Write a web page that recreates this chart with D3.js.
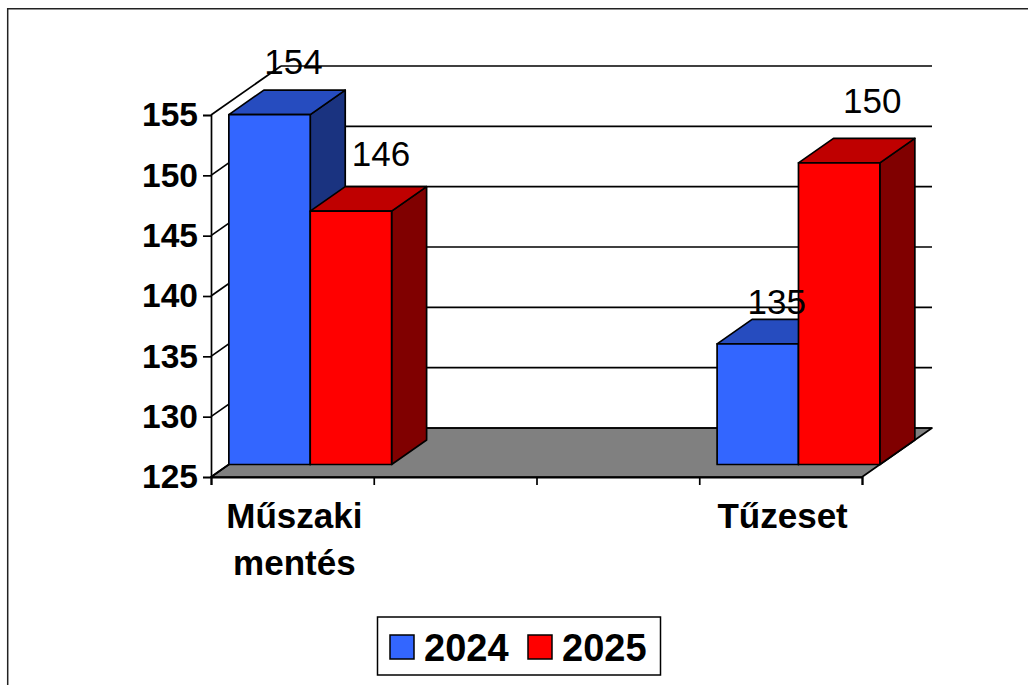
<html>
<head>
<meta charset="utf-8">
<script src="https://d3js.org/d3.v7.min.js"></script>
<style>
html, body { margin: 0; padding: 0; background: #fff; }
svg { display: block; font-family: "Liberation Sans", Arial, sans-serif; }
</style>
</head>
<body>
<svg id="svg" width="1028" height="685"></svg>
<script>
// four slots on the axis, the middle two have no data
var categories = ["Műszaki mentés", "", "", "Tűzeset"];
var seriesNames = ["2024", "2025"];
var values2024 = [154, null, null, 135];
var values2025 = [146, null, null, 150];
var yTicks = [125, 130, 135, 140, 145, 150, 155];

var svg = d3.select("svg");

var x0 = 211, x1 = 862, yBottom = 477, yTop = 115;
var depth = {x: 70, y: -49};            // full floor depth
var barOff = 0.255, barDepth = 0.5;     // where the bar sits in the depth

var x = d3.scaleBand().domain(d3.range(categories.length)).range([x0, x1]).padding(0);
var xSeries = d3.scaleBand().domain(seriesNames).range([0, x.bandwidth()]).padding(0);
var y = d3.scaleLinear().domain([125, 155]).range([yBottom, yTop]);
var xEdges = d3.scaleLinear().domain([0, categories.length]).range([x0, x1]);

var front = {"2024": "#3366ff", "2025": "#ff0000"};
var topC = {"2024": "#264cbf", "2025": "#bf0000"};
var sideC = {"2024": "#1a3380", "2025": "#800000"};

// the data labels were dragged by hand in the original
var labelNudge = {"2024-0": [-11, -16], "2025-0": [-5, -21], "2024-3": [-16, -5], "2025-3": [-2, -25]};

function poly(g, pts, fill) {
    g.append("polygon")
        .attr("points", pts.map(function(p) { return p.join(","); }).join(" "))
        .attr("fill", fill)
        .attr("stroke", "#000")
        .attr("stroke-width", 1.7)
        .attr("stroke-linejoin", "round");
}

// outer frame, it runs off the page on the right and bottom
svg.append("path").attr("d", "M7.7,685V8.7H1028").attr("fill", "none").attr("stroke", "#222").attr("stroke-width", 1.5);

// floor
poly(svg.append("g"), [[x0, yBottom], [x1, yBottom], [x1 + depth.x, yBottom + depth.y], [x0 + depth.x, yBottom + depth.y]], "#808080");

// back wall gridlines and the diagonals on the side wall
var grid = svg.append("g").attr("stroke", "#000").attr("stroke-width", 1.7);
yTicks.forEach(function(t) {
    var gy = y(t) + depth.y;
    grid.append("line").attr("x1", x0 + depth.x).attr("x2", x1 + depth.x).attr("y1", gy).attr("y2", gy);
    grid.append("line").attr("x1", x0).attr("x2", x0 + depth.x).attr("y1", y(t)).attr("y2", gy);
});

// bars, back to front: side and top first, then the faces
var barsG = svg.append("g");
var labels = [];
seriesNames.forEach(function(name, s) {
    var vals = s == 0 ? values2024 : values2025;
    vals.forEach(function(v, i) {
        if (v == null) return;
        labels.push({v: v, i: i, name: name});
    });
});
labels.sort(function(a, b) { return a.i - b.i || (a.name < b.name ? -1 : 1); });

var ox = depth.x * barOff, oy = depth.y * barOff;
var dx = depth.x * barDepth, dy = depth.y * barDepth;
labels.forEach(function(d) {
    var left = x(d.i) + xSeries(d.name) + ox;
    var right = left + xSeries.bandwidth();
    var bot = yBottom + oy;
    var top = y(d.v) + oy;
    var g = barsG.append("g");
    poly(g, [[right, bot], [right + dx, bot + dy], [right + dx, top + dy], [right, top]], sideC[d.name]);
    poly(g, [[left, top], [right, top], [right + dx, top + dy], [left + dx, top + dy]], topC[d.name]);
    poly(g, [[left, bot], [right, bot], [right, top], [left, top]], front[d.name]);
});

// axes
var yAxis = d3.axisLeft(y).tickValues(yTicks).tickSize(8).tickPadding(5).tickFormat(d3.format("d"));
var gy = svg.append("g").attr("transform", "translate(" + x0 + ",0)").call(yAxis);
gy.selectAll("text").attr("font-size", 33.5).attr("font-weight", "bold").attr("fill", "#000").attr("font-family", "'Liberation Sans'");
gy.selectAll("line").attr("stroke", "#000").attr("stroke-width", 1.7);
gy.select(".domain").attr("stroke", "#000").attr("stroke-width", 1.7);

var xAxis = d3.axisBottom(xEdges).tickValues(d3.range(categories.length + 1)).tickSize(8).tickFormat("");
var gx = svg.append("g").attr("transform", "translate(0," + yBottom + ")").call(xAxis);
gx.selectAll("line").attr("stroke", "#000").attr("stroke-width", 1.7);
gx.select(".domain").attr("stroke", "#000").attr("stroke-width", 2);

// category labels, long one wraps on the space
categories.forEach(function(c, i) {
    c.split(" ").forEach(function(w, k) {
        if (!w) return;
        svg.append("text").attr("x", x(i) + x.bandwidth() / 2 + 2).attr("y", 528 + k * 47)
            .attr("text-anchor", "middle").attr("font-size", 35).attr("font-weight", "bold").text(w);
    });
});

// data labels go on top of everything
labels.forEach(function(d) {
    var cx = x(d.i) + xSeries(d.name) + xSeries.bandwidth() / 2 + ox + dx;
    var n = labelNudge[d.name + "-" + d.i];
    svg.append("text").attr("x", cx + n[0]).attr("y", y(d.v) + oy + dy + n[1])
        .attr("text-anchor", "middle").attr("font-size", 35).attr("fill", "#000").text(d.v);
});

// legend
var legend = svg.append("g");
legend.append("rect").attr("x", 377.5).attr("y", 617).attr("width", 283).attr("height", 58)
    .attr("fill", "#fff").attr("stroke", "#000").attr("stroke-width", 1.5);
seriesNames.forEach(function(name, s) {
    var lx = 390 + s * 138;
    legend.append("rect").attr("x", lx).attr("y", 635).attr("width", 24).attr("height", 24)
        .attr("fill", front[name]).attr("stroke", "#000").attr("stroke-width", 1.5);
    legend.append("text").attr("x", lx + 34).attr("y", 661).attr("font-size", 38).attr("font-weight", "bold").text(name);
});
</script>
</body>
</html>
